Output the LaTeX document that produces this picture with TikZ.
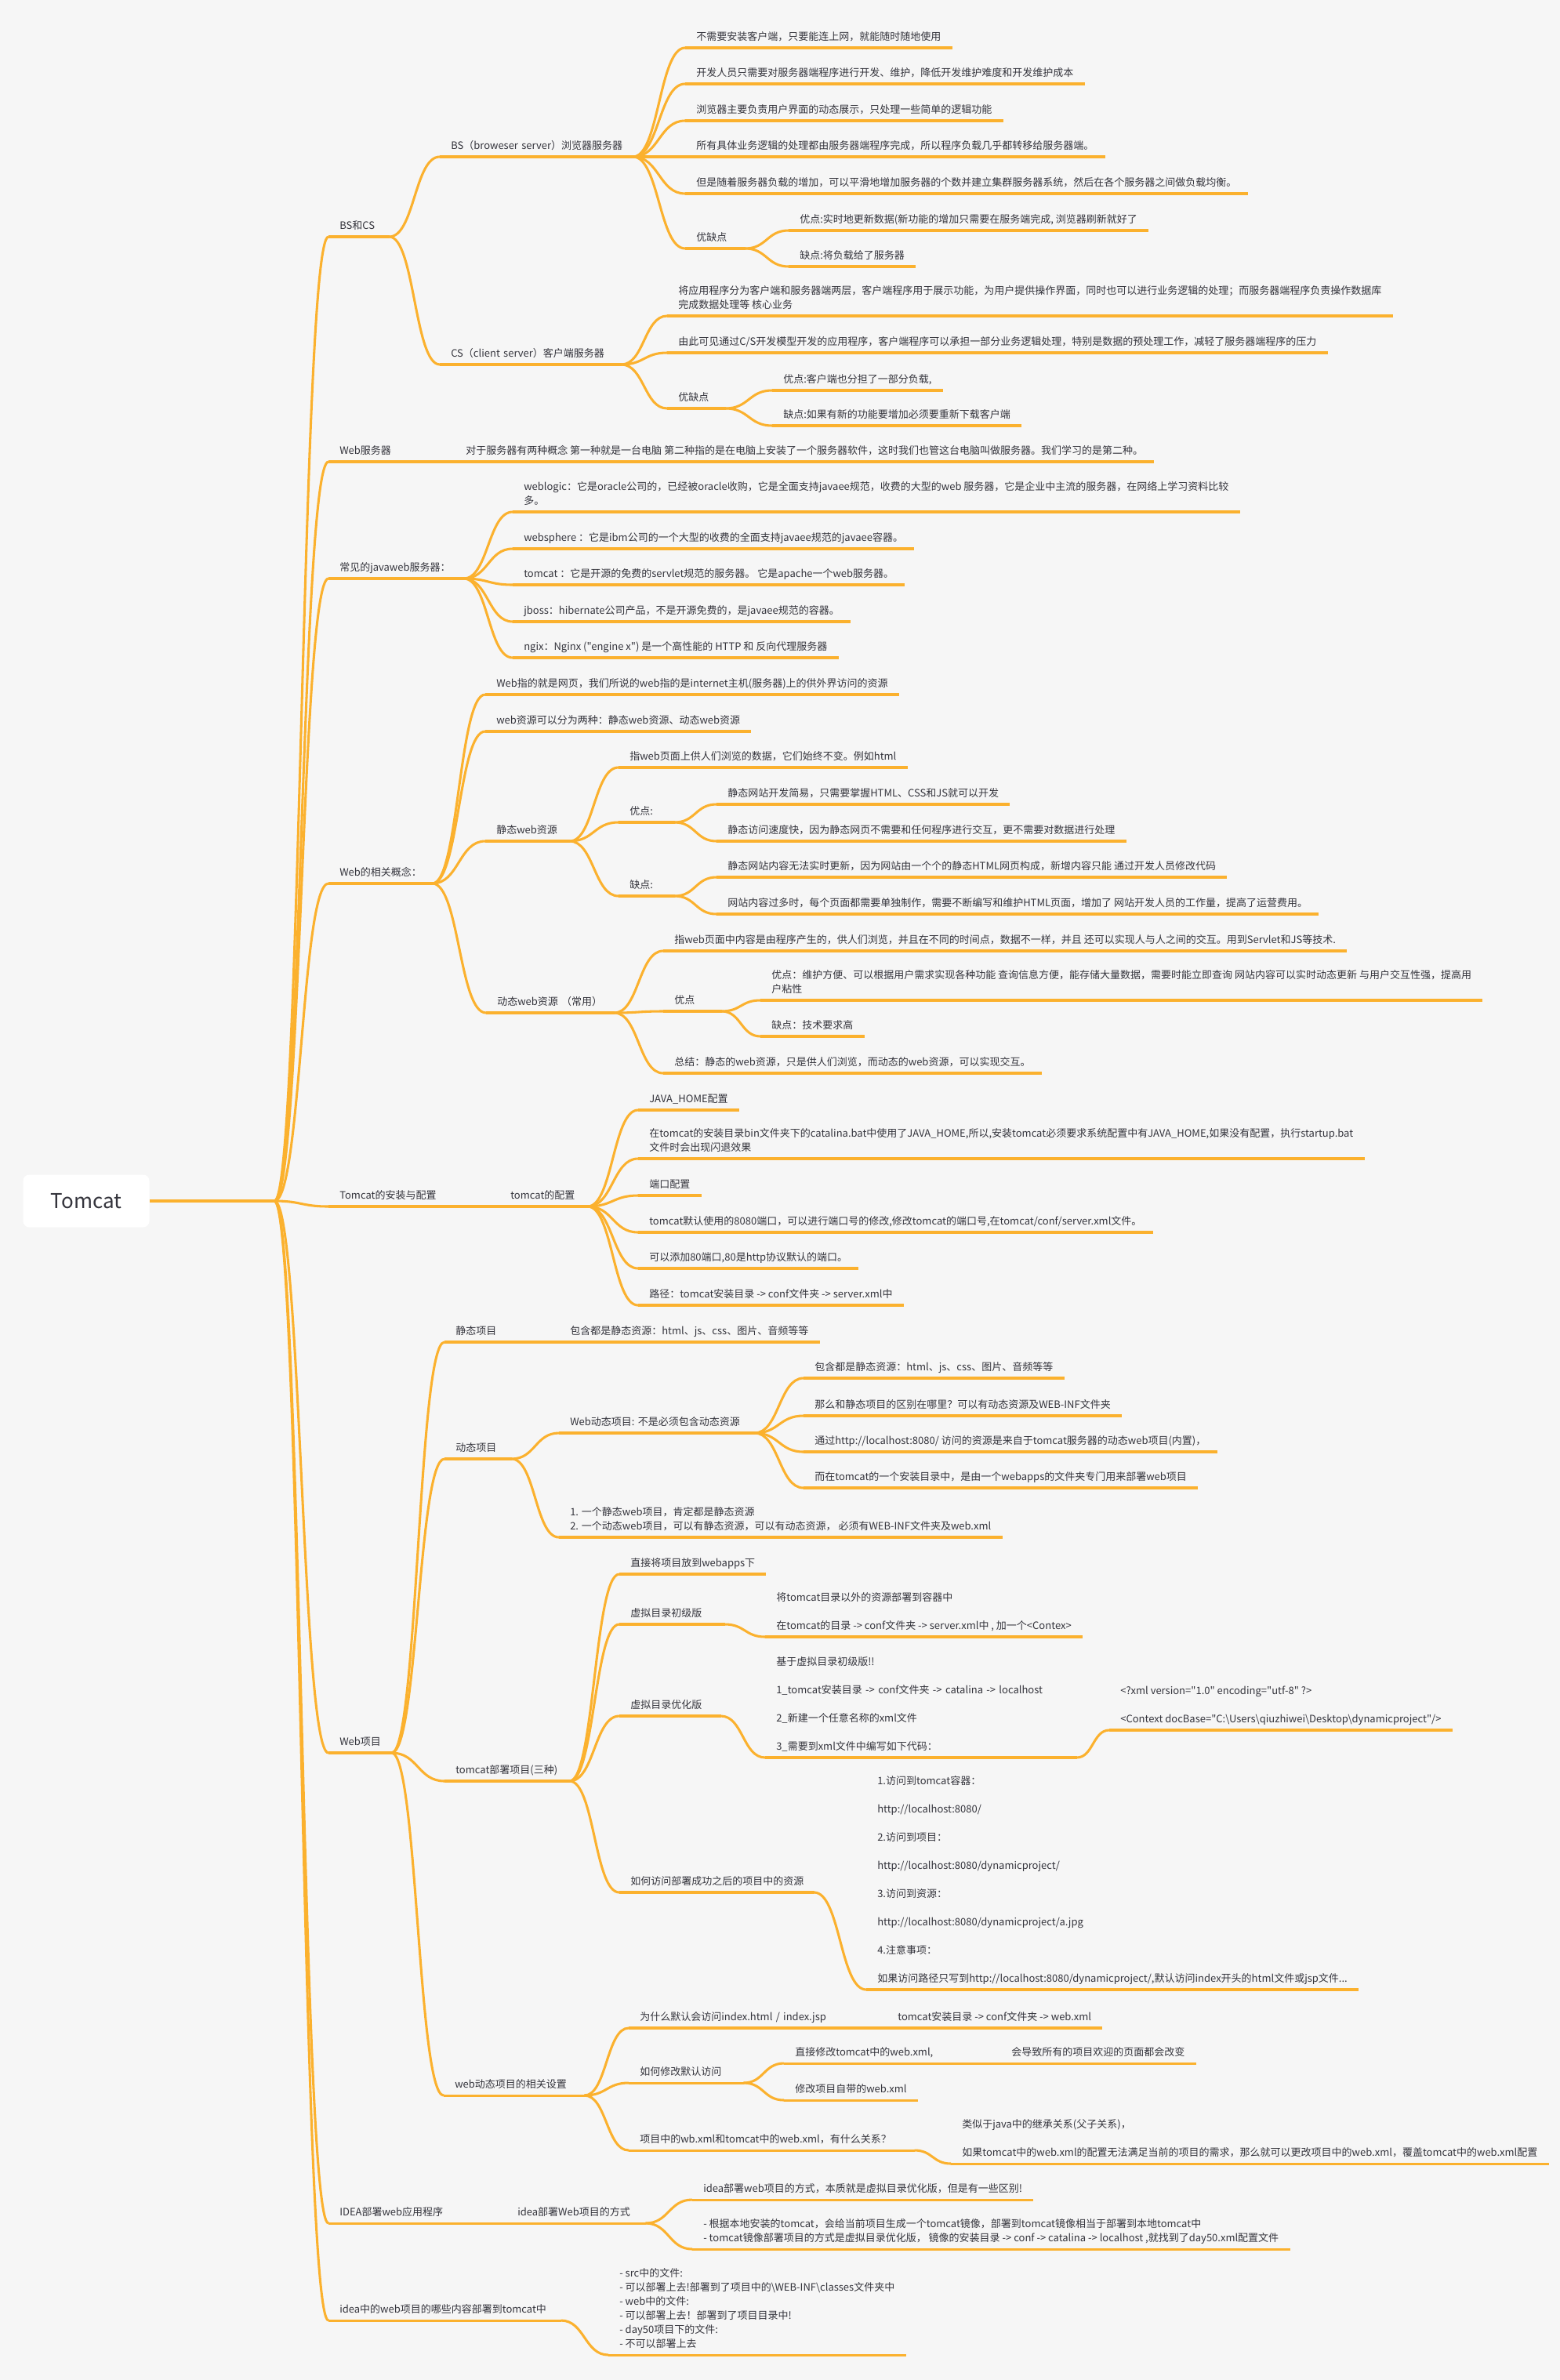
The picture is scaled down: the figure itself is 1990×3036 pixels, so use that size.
\documentclass[tikz,border=0pt]{standalone}
\usepackage{fontspec}
\setmainfont{Noto Sans CJK SC}[Ligatures=TeXOff]
\usetikzlibrary{calc}
\definecolor{branch}{HTML}{FBB12E}
\definecolor{ink}{HTML}{34343C}
\definecolor{paper}{HTML}{F6F6F6}

\begin{document}
\begin{tikzpicture}[x=0.75pt, y=-0.75pt,
		ln/.style={draw=branch, line width=2.3pt},
		topic/.style={anchor=south west, inner xsep=10.5pt, inner ysep=2.7pt, align=left, text=ink,
			font=\fontsize{9.75pt}{13.5pt}\selectfont, execute at end node=\strut,
			append after command={(\tikzlastnode.south west) edge[ln] (\tikzlastnode.south east)}},
		len/.code={\pgfmathsetlengthmacro\toplen{#1*0.75pt-21pt}\pgfkeysalso{/tikz/text width=\toplen}},
		rootbox/.style={fill=white, rounded corners=6pt, minimum width=120.75pt, minimum height=50.25pt,
			text=ink, font=\fontsize{19.5pt}{24pt}\selectfont}]
	\useasboundingbox[fill=paper] (0,0) rectangle (1990,3036);

	\node[rootbox] (root) at (110,1532) {Tomcat};
	\coordinate (hub) at (350,1532);

	% BS und CS
	\node[topic, len=77] (bscs) at (419,302) {BS和CS};
	\node[topic, len=246] (bs) at (561,200) {BS（broweser~server）浏览器服务器};
	\node[topic] (bs1) at (874,61) {不需要安装客户端，只要能连上网，就能随时随地使用};
	\node[topic] (bs2) at (874,107) {开发人员只需要对服务器端程序进行开发、维护，降低开发维护难度和开发维护成本};
	\node[topic] (bs3) at (874,154) {浏览器主要负责用户界面的动态展示，只处理一些简单的逻辑功能};
	\node[topic] (bs4) at (874,200) {所有具体业务逻辑的处理都由服务器端程序完成，所以程序负载几乎都转移给服务器端。};
	\node[topic] (bs5) at (874,247) {但是随着服务器负载的增加，可以平滑地增加服务器的个数并建立集群服务器系统，然后在各个服务器之间做负载均衡。};
	\node[topic, len=76] (bspc) at (874,317) {优缺点};
	\node[topic] (bsp) at (1006,294) {优点:实时地更新数据(新功能的增加只需要在服务端完成, 浏览器刷新就好了};
	\node[topic] (bsc) at (1006,340) {缺点:将负载给了服务器};
	\node[topic, len=231] (cs) at (561,465) {CS（client~server）客户端服务器};
	\node[topic] (cs1) at (851,403) {将应用程序分为客户端和服务器端两层，客户端程序用于展示功能，为用户提供操作界面，同时也可以进行业务逻辑的处理；而服务器端程序负责操作数据库\\完成数据处理等 核心业务};
	\node[topic] (cs2) at (851,450) {由此可见通过C/S开发模型开发的应用程序，客户端程序可以承担一部分业务逻辑处理，特别是数据的预处理工作，减轻了服务器端程序的压力};
	\node[topic, len=74] (cspc) at (851,521) {优缺点};
	\node[topic] (csp) at (985,498) {优点:客户端也分担了一部分负载,};
	\node[topic] (csc) at (985,543) {缺点:如果有新的功能要增加必须要重新下载客户端};

	% Web-Server
	\node[topic, len=161] (websrv) at (419,589) {Web服务器};
	\node[topic] (websrvA) at (580,589) {对于服务器有两种概念 第一种就是一台电脑 第二种指的是在电脑上安装了一个服务器软件，这时我们也管这台电脑叫做服务器。我们学习的是第二种。};
	\node[topic, len=172] (jwsrv) at (419,738) {常见的javaweb服务器：};
	\node[topic] (jw1) at (654,653) {weblogic：它是oracle公司的，已经被oracle收购，它是全面支持javaee规范，收费的大型的web 服务器，它是企业中主流的服务器，在网络上学习资料比较\\多。};
	\node[topic] (jw2) at (654,700) {websphere ：它是ibm公司的一个大型的收费的全面支持javaee规范的javaee容器。};
	\node[topic] (jw3) at (654,746) {tomcat ：它是开源的免费的servlet规范的服务器。 它是apache一个web服务器。};
	\node[topic] (jw4) at (654,793) {jboss：hibernate公司产品，不是开源免费的，是javaee规范的容器。};
	\node[topic] (jw5) at (654,839) {ngix：Nginx ("engine x") 是一个高性能的 HTTP 和 反向代理服务器};

	% Web-Begriffe
	\node[topic, len=132] (webcon) at (419,1127) {Web的相关概念：};
	\node[topic] (wc1) at (619,886) {Web指的就是网页，我们所说的web指的是internet主机(服务器)上的供外界访问的资源};
	\node[topic] (wc2) at (619,933) {web资源可以分为两种：静态web资源、动态web资源};
	\node[topic, len=107] (wcs) at (619,1073) {静态web资源};
	\node[topic] (wcs1) at (789,979) {指web页面上供人们浏览的数据，它们始终不变。例如html};
	\node[topic, len=71] (wcsp) at (789,1049) {优点:};
	\node[topic] (wcsp1) at (914,1026) {静态网站开发简易，只需要掌握HTML、CSS和JS就可以开发};
	\node[topic] (wcsp2) at (914,1073) {静态访问速度快，因为静态网页不需要和任何程序进行交互，更不需要对数据进行处理};
	\node[topic, len=71] (wcsc) at (789,1143) {缺点:};
	\node[topic] (wcsc1) at (914,1119) {静态网站内容无法实时更新，因为网站由一个个的静态HTML网页构成，新增内容只能 通过开发人员修改代码};
	\node[topic] (wcsc2) at (914,1166) {网站内容过多时，每个页面都需要单独制作，需要不断编写和维护HTML页面，增加了 网站开发人员的工作量，提高了运营费用。};
	\node[topic, len=163] (wcd) at (620,1292) {动态web资源~（常用）};
	\node[topic] (wcd1) at (846,1213) {指web页面中内容是由程序产生的，供人们浏览，并且在不同的时间点，数据不一样，并且 还可以实现人与人之间的交互。用到Servlet和JS等技术.};
	\node[topic, len=74] (wcdp) at (846,1290) {优点};
	\node[topic] (wcdp1) at (970,1276) {优点：维护方便、可以根据用户需求实现各种功能 查询信息方便，能存储大量数据，需要时能立即查询 网站内容可以实时动态更新 与用户交互性强，提高用\\户粘性};
	\node[topic] (wcdp2) at (970,1322) {缺点：技术要求高};
	\node[topic] (wcd2) at (846,1369) {总结：静态的web资源，只是供人们浏览，而动态的web资源，可以实现交互。};

	% Tomcat
	\node[topic, len=218] (tcinst) at (419,1539) {Tomcat的安装与配置};
	\node[topic, len=112] (tccfg) at (637,1539) {tomcat的配置};
	\node[topic] (tc1) at (814,1416) {JAVA\_HOME配置};
	\node[topic] (tc2) at (814,1478) {在tomcat的安装目录bin文件夹下的catalina.bat中使用了JAVA\_HOME,所以,安装tomcat必须要求系统配置中有JAVA\_HOME,如果没有配置，执行startup.bat\\文件时会出现闪退效果};
	\node[topic] (tc3) at (814,1525) {端口配置};
	\node[topic] (tc4) at (814,1572) {tomcat默认使用的8080端口，可以进行端口号的修改,修改tomcat的端口号,在tomcat/conf/server.xml文件。};
	\node[topic] (tc5) at (814,1618) {可以添加80端口,80是http协议默认的端口。};
	\node[topic] (tc6) at (814,1665) {路径：tomcat安装目录 -> conf文件夹 -> server.xml中};

	% Web-Projekt
	\node[topic, len=80] (webprj) at (419,2236) {Web项目};
	\node[topic, len=146] (wpst) at (567,1712) {静态项目};
	\node[topic] (wpst1) at (713,1712) {包含都是静态资源：html、js、css、图片、音频等等};
	\node[topic, len=85] (wpdy) at (567,1861) {动态项目};
	\node[topic, len=249] (wpdy1) at (713,1828) {Web动态项目:~不是必须包含动态资源};
	\node[topic] (d1) at (1025,1758) {包含都是静态资源：html、js、css、图片、音频等等};
	\node[topic] (d2) at (1025,1806) {那么和静态项目的区别在哪里？可以有动态资源及WEB-INF文件夹};
	\node[topic] (d3) at (1025,1852) {通过http://localhost:8080/ 访问的资源是来自于tomcat服务器的动态web项目(内置)，};
	\node[topic] (d4) at (1025,1898) {而在tomcat的一个安装目录中，是由一个webapps的文件夹专门用来部署web项目};
	\node[topic] (wpdy2) at (713,1961) {1. 一个静态web项目，肯定都是静态资源\\2. 一个动态web项目，可以有静态资源，可以有动态资源， 必须有WEB-INF文件夹及web.xml};
	\node[topic, len=159] (wpdep) at (567,2272) {tomcat部署项目(三种)};
	\node[topic] (dp1) at (790,2008) {直接将项目放到webapps下};
	\node[topic, len=134] (dp2) at (790,2072) {虚拟目录初级版};
	\node[topic] (dp2a) at (976,2088) {将tomcat目录以外的资源部署到容器中\\[13.5pt]在tomcat的目录 -> conf文件夹 -> server.xml中 , 加一个<Contex>};
	\node[topic, len=129] (dp3) at (790,2189) {虚拟目录优化版};
	\node[topic, len=397] (dp3a) at (976,2242) {基于虚拟目录初级版!!\\[13.5pt]1\_tomcat安装目录 -> conf文件夹 -> catalina -> localhost\\[13.5pt]2\_新建一个任意名称的xml文件\\[13.5pt]3\_需要到xml文件中编写如下代码：};
	\node[topic] (dp3b) at (1415,2207) {<?xml version="1.0" encoding="utf-8" ?>\\[13.5pt]<Context docBase="C:\textbackslash{}Users\textbackslash{}qiuzhiwei\textbackslash{}Desktop\textbackslash{}dynamicproject"/>};
	\node[topic, len=248] (dp4) at (790,2414) {如何访问部署成功之后的项目中的资源};
	\node[topic] (dp4a) at (1105,2538) {1.访问到tomcat容器：\\[13.5pt]http://localhost:8080/\\[13.5pt]2.访问到项目：\\[13.5pt]http://localhost:8080/dynamicproject/\\[13.5pt]3.访问到资源：\\[13.5pt]http://localhost:8080/dynamicproject/a.jpg\\[13.5pt]4.注意事项：\\[13.5pt]如果访问路径只写到http://localhost:8080/dynamicproject/,默认访问index开头的html文件或jsp文件...};
	\node[topic, len=179] (wpset) at (566,2673) {web动态项目的相关设置};
	\node[topic, len=329] (ws1) at (802,2587) {为什么默认会访问index.html~/~index.jsp};
	\node[topic] (ws1a) at (1131,2587) {tomcat安装目录 -> conf文件夹 -> web.xml};
	\node[topic, len=146] (ws2) at (802,2657) {如何修改默认访问};
	\node[topic, len=276] (ws2a) at (1000,2632) {直接修改tomcat中的web.xml,};
	\node[topic] (ws2b) at (1276,2632) {会导致所有的项目欢迎的页面都会改变};
	\node[topic] (ws2c) at (1000,2679) {修改项目自带的web.xml};
	\node[topic, len=364] (ws3) at (802,2743) {项目中的wb.xml和tomcat中的web.xml，有什么关系？};
	\node[topic] (ws3a) at (1213,2760) {类似于java中的继承关系(父子关系)，\\[13.5pt]如果tomcat中的web.xml的配置无法满足当前的项目的需求，那么就可以更改项目中的web.xml，覆盖tomcat中的web.xml配置};

	% IDEA
	\node[topic, len=227] (idea) at (419,2836) {IDEA部署web应用程序};
	\node[topic, len=177] (ideaway) at (646,2836) {idea部署Web项目的方式};
	\node[topic] (id1) at (883,2806) {idea部署web项目的方式，本质就是虚拟目录优化版，但是有一些区别!};
	\node[topic] (id2) at (883,2869) {- 根据本地安装的tomcat，会给当前项目生成一个tomcat镜像，部署到tomcat镜像相当于部署到本地tomcat中\\- tomcat镜像部署项目的方式是虚拟目录优化版， 镜像的安装目录 -> conf -> catalina -> localhost ,就找到了day50.xml配置文件};
	\node[topic, len=296] (ideafile) at (419,2960) {idea中的web项目的哪些内容部署到tomcat中};
	\node[topic] (if1) at (776,3004) {- src中的文件:\\- 可以部署上去!部署到了项目中的\textbackslash{}WEB-INF\textbackslash{}classes文件夹中\\- web中的文件:\\- 可以部署上去！部署到了项目目录中!\\- day50项目下的文件:\\- 不可以部署上去};

	% branches
	\draw[ln] (root.east) -- (hub);
	\foreach \b in {bscs, websrv, jwsrv, webcon, tcinst, webprj, idea, ideafile}
		\draw[ln] let \p1=(hub), \p2=(\b.south west) in (\p1) .. controls ({0.5*\x1+0.5*\x2},\y1) and ({0.5*\x1+0.5*\x2},\y2) .. (\p2);
	\foreach \a/\b in {bscs/bs, bscs/cs, bs/bs1, bs/bs2, bs/bs3, bs/bs4, bs/bs5, bs/bspc, bspc/bsp, bspc/bsc,
			cs/cs1, cs/cs2, cs/cspc, cspc/csp, cspc/csc, websrv/websrvA,
			jwsrv/jw1, jwsrv/jw2, jwsrv/jw3, jwsrv/jw4, jwsrv/jw5,
			webcon/wc1, webcon/wc2, webcon/wcs, webcon/wcd, wcs/wcs1, wcs/wcsp, wcs/wcsc,
			wcsp/wcsp1, wcsp/wcsp2, wcsc/wcsc1, wcsc/wcsc2, wcd/wcd1, wcd/wcdp, wcd/wcd2, wcdp/wcdp1, wcdp/wcdp2,
			tcinst/tccfg, tccfg/tc1, tccfg/tc2, tccfg/tc3, tccfg/tc4, tccfg/tc5, tccfg/tc6,
			webprj/wpst, wpst/wpst1, webprj/wpdy, wpdy/wpdy1, wpdy1/d1, wpdy1/d2, wpdy1/d3, wpdy1/d4, wpdy/wpdy2,
			webprj/wpdep, wpdep/dp1, wpdep/dp2, dp2/dp2a, wpdep/dp3, dp3/dp3a, dp3a/dp3b, wpdep/dp4, dp4/dp4a,
			webprj/wpset, wpset/ws1, ws1/ws1a, wpset/ws2, ws2/ws2a, ws2a/ws2b, ws2/ws2c, wpset/ws3, ws3/ws3a,
			idea/ideaway, ideaway/id1, ideaway/id2, ideafile/if1}
		\draw[ln] let \p1=(\a.south east), \p2=(\b.south west) in (\p1) .. controls ({0.5*\x1+0.5*\x2},\y1) and ({0.5*\x1+0.5*\x2},\y2) .. (\p2);
\end{tikzpicture}
\end{document}
